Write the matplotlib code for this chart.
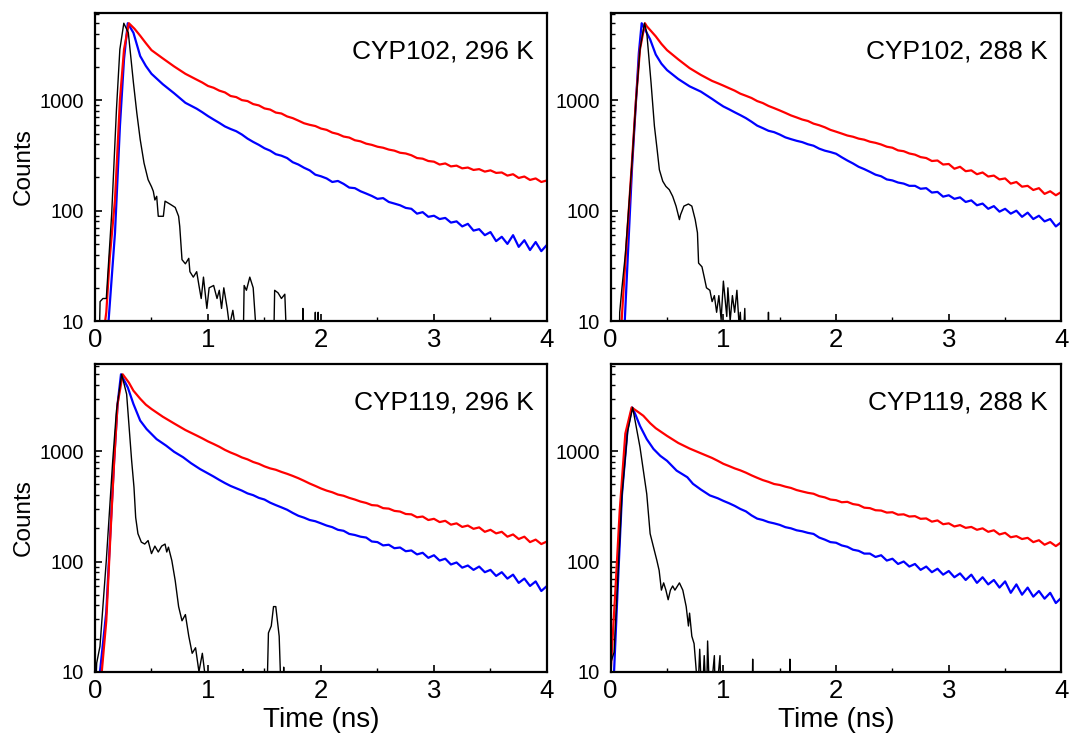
import matplotlib
matplotlib.use('Agg')
import numpy as np
import matplotlib.pyplot as plt
from matplotlib.ticker import LogLocator, NullFormatter, FixedLocator, MultipleLocator

plt.rcParams['font.family'] = ['Liberation Sans', 'DejaVu Sans']

# panel labels
titles = ['CYP102, 296 K', 'CYP102, 288 K', 'CYP119, 296 K', 'CYP119, 288 K']

# common time grid for the slow tails (ns)
tail_t = [1.00, 1.05, 1.10, 1.15, 1.20, 1.25, 1.30, 1.35, 1.40, 1.45,
          1.50, 1.55, 1.60, 1.65, 1.70, 1.75, 1.80, 1.85, 1.90, 1.95,
          2.00, 2.05, 2.10, 2.15, 2.20, 2.25, 2.30, 2.35, 2.40, 2.45,
          2.50, 2.55, 2.60, 2.65, 2.70, 2.75, 2.80, 2.85, 2.90, 2.95,
          3.00, 3.05, 3.10, 3.15, 3.20, 3.25, 3.30, 3.35, 3.40, 3.45,
          3.50, 3.55, 3.60, 3.65, 3.70, 3.75, 3.80, 3.85, 3.90, 3.95,
          4.00]

# ---- CYP102, 296 K ----
red_a_t = [0.07, 0.10, 0.13, 0.177, 0.221, 0.257, 0.30, 0.35, 0.40, 0.45, 0.50, 0.60, 0.70, 0.80, 0.90, 0.95]
red_a = [7, 12, 37, 126, 1020, 2900, 5000, 4450, 3850, 3300, 2850, 2400, 2030, 1740, 1540, 1450]
red_a_tail = [1350, 1300, 1225, 1180, 1095, 1070, 1005, 985, 925, 900,
              845, 825, 775, 760, 715, 690, 655, 620, 600, 585,
              555, 540, 510, 495, 470, 460, 435, 425, 405, 395,
              380, 372, 358, 350, 335, 330, 318, 300, 296, 282,
              278, 262, 268, 252, 256, 242, 246, 234, 238, 226,
              232, 220, 222, 208, 214, 198, 204, 190, 196, 182,
              188]
blue_a_t = [0.11, 0.12, 0.177, 0.221, 0.257, 0.29, 0.34, 0.40, 0.45, 0.50, 0.60, 0.70, 0.80, 0.90, 0.95]
blue_a = [7, 10, 63, 590, 2370, 5000, 4100, 2520, 2050, 1740, 1400, 1160, 950, 840, 780]
blue_a_tail = [720, 670, 625, 580, 550, 525, 490, 450, 420, 395,
               368, 350, 325, 315, 300, 275, 262, 245, 232, 212,
               205, 196, 182, 186, 175, 162, 160, 150, 143, 136,
               128, 130, 120, 116, 112, 106, 104, 94, 97, 88,
               90, 84, 86, 78, 80, 72, 76, 66, 68, 60,
               64, 53, 58, 50, 60, 47, 54, 44, 52, 43,
               49]
irf_a_t = [0.035, 0.045, 0.07, 0.10, 0.148, 0.19, 0.22, 0.255, 0.295, 0.34,
           0.37, 0.40, 0.434, 0.47, 0.50, 0.516, 0.53, 0.546, 0.56, 0.605,
           0.62, 0.65, 0.68, 0.71, 0.74, 0.75, 0.77, 0.80, 0.83, 0.84,
           0.87, 0.90, 0.92, 0.94, 0.96, 0.97, 0.99, 1.01, 1.05, 1.08,
           1.10, 1.12, 1.14, 1.17, 1.19, 1.22, 1.24, 1.31, 1.32, 1.34,
           1.37, 1.40, 1.42, 1.58, 1.59, 1.62, 1.65, 1.68, 1.70, 1.835,
           1.84, 1.845, 1.945, 1.95, 1.955, 1.97, 1.975, 1.98, 4.0]
irf_a = [5, 15, 16, 16, 95, 830, 2900, 5000, 4100, 1450,
         770, 442, 270, 191, 165, 150, 125, 135, 89, 89,
         122, 117, 112, 107, 89, 72, 36, 33, 37, 28,
         25, 28, 21, 16, 25, 20, 13, 20, 21, 16,
         19, 13, 20, 13, 9, 12.5, 9, 5, 21, 19,
         25, 20, 10, 5, 19, 18, 16, 17.5, 5, 5,
         13, 5, 5, 12, 5, 5, 12, 5, 5]

# ---- CYP102, 288 K ----
red_b_t = [0.085, 0.097, 0.127, 0.186, 0.224, 0.26, 0.304, 0.32, 0.358, 0.40, 0.45, 0.50, 0.60, 0.70, 0.80, 0.90, 0.95]
red_b = [7, 10, 31, 250, 1000, 2900, 5000, 4700, 4250, 3800, 3250, 2850, 2350, 1960, 1700, 1500, 1430]
red_b_tail = [1360, 1290, 1225, 1150, 1100, 1050, 985, 945, 890, 850,
              810, 770, 730, 700, 670, 650, 615, 595, 570, 540,
              520, 500, 480, 468, 450, 440, 422, 412, 398, 380,
              372, 352, 346, 330, 322, 306, 300, 282, 285, 262,
              265, 240, 250, 228, 232, 214, 222, 204, 208, 192,
              196, 176, 182, 165, 168, 154, 160, 142, 150, 138,
              148]
blue_b_t = [0.11, 0.125, 0.15, 0.19, 0.225, 0.25, 0.275, 0.35, 0.40, 0.45, 0.50, 0.60, 0.70, 0.80, 0.90, 0.95]
blue_b = [7, 10, 35, 250, 1000, 2700, 5000, 3570, 2600, 2150, 1880, 1560, 1340, 1200, 1030, 950]
blue_b_tail = [880, 830, 780, 735, 690, 640, 590, 560, 530, 515,
               490, 462, 445, 430, 418, 400, 388, 365, 350, 340,
               328, 305, 285, 268, 250, 238, 225, 212, 205, 192,
               188, 180, 176, 168, 168, 158, 160, 146, 148, 134,
               138, 128, 132, 120, 124, 112, 116, 104, 110, 98,
               104, 94, 100, 88, 96, 84, 90, 80, 84, 72,
               79]
irf_b_t = [0.075, 0.08, 0.10, 0.13, 0.19, 0.225, 0.26, 0.30, 0.32, 0.358,
           0.388, 0.412, 0.432, 0.462, 0.49, 0.52, 0.55, 0.58, 0.61, 0.62,
           0.65, 0.69, 0.72, 0.75, 0.77, 0.78, 0.81, 0.83, 0.85, 0.88,
           0.90, 0.92, 0.94, 0.96, 0.98, 1.0, 1.03, 1.04, 1.06, 1.08,
           1.10, 1.12, 1.14, 1.15, 1.17, 1.19, 1.20, 1.395, 1.40, 1.405,
           4.0]
irf_b = [5, 12, 20, 40, 280, 1000, 2900, 5000, 4120, 1450,
         585, 359, 235, 185, 166, 155, 135, 110, 83, 92,
         110, 115, 110, 83, 63, 33.5, 31, 25, 20, 19,
         15, 17, 12, 17, 10.3, 23, 11, 20, 10, 17,
         12, 19, 9, 12, 5, 13, 5, 5, 12, 5,
         5]

# ---- CYP119, 296 K ----
red_c_t = [0.05, 0.06, 0.10, 0.14, 0.17, 0.20, 0.245, 0.30, 0.34, 0.40, 0.45, 0.50, 0.60, 0.70, 0.80, 0.90, 0.95]
red_c = [7, 10, 29, 205, 825, 2690, 5000, 4200, 3550, 3000, 2650, 2420, 2060, 1790, 1560, 1390, 1310]
red_c_tail = [1230, 1165, 1100, 1030, 975, 930, 880, 845, 800, 770,
              730, 700, 680, 650, 625, 598, 570, 540, 510, 485,
              460, 440, 425, 405, 395, 378, 365, 350, 340, 325,
              322, 305, 302, 288, 284, 270, 268, 252, 256, 238,
              244, 228, 234, 216, 222, 206, 212, 198, 204, 186,
              194, 180, 186, 168, 176, 160, 168, 150, 158, 144,
              152]
blue_c_t = [0.035, 0.044, 0.10, 0.14, 0.17, 0.20, 0.23, 0.29, 0.34, 0.40, 0.457, 0.545, 0.63, 0.70, 0.78, 0.85, 0.93]
blue_c = [7, 10, 35, 220, 850, 2700, 5000, 3800, 2690, 1900, 1590, 1290, 1125, 990, 883, 780, 690]
blue_c_tail = [630, 590, 550, 515, 485, 462, 440, 415, 400, 378,
               365, 342, 325, 310, 295, 276, 260, 250, 238, 232,
               222, 212, 205, 194, 190, 178, 174, 168, 165, 152,
               150, 140, 142, 132, 134, 124, 126, 116, 120, 108,
               114, 102, 106, 94, 98, 88, 92, 84, 90, 80,
               84, 74, 80, 70, 76, 64, 70, 60, 66, 54,
               60]
irf_c_t = [0.0, 0.015, 0.044, 0.10, 0.157, 0.19, 0.236, 0.28, 0.324, 0.345,
           0.36, 0.38, 0.41, 0.44, 0.47, 0.50, 0.53, 0.56, 0.59, 0.62,
           0.635, 0.65, 0.68, 0.71, 0.74, 0.77, 0.80, 0.83, 0.86, 0.89,
           0.92, 0.95, 0.97, 0.99, 1.305, 1.31, 1.315, 1.52, 1.535, 1.56,
           1.58, 1.60, 1.63, 1.65, 1.665, 1.67, 1.675, 4.0]
irf_c = [5, 12, 17, 102, 825, 2340, 5000, 3300, 830, 472,
         251, 179, 150, 144, 155, 118, 138, 122, 138, 144,
         122, 135, 102, 67, 39, 29, 33, 21, 14.7, 16.5,
         10, 14.7, 10, 5, 5, 10.5, 5, 5, 22.5, 26,
         39, 39, 21, 5, 5, 11, 5, 5]

# ---- CYP119, 288 K ----
red_d_t = [-0.01, 0.0, 0.04, 0.08, 0.13, 0.186, 0.25, 0.29, 0.35, 0.40, 0.50, 0.60, 0.70, 0.80, 0.90, 0.95]
red_d = [7, 10, 51, 288, 1450, 2500, 2250, 2100, 1800, 1620, 1380, 1190, 1060, 960, 870, 820]
red_d_tail = [770, 735, 700, 672, 640, 605, 575, 548, 528, 505,
              495, 478, 465, 445, 432, 420, 412, 392, 382, 365,
              360, 345, 348, 332, 326, 308, 305, 292, 290, 278,
              280, 266, 268, 256, 258, 244, 246, 230, 236, 218,
              222, 208, 214, 202, 206, 194, 200, 186, 192, 176,
              182, 166, 170, 160, 164, 150, 156, 142, 150, 138,
              150]
blue_d_t = [0.02, 0.03, 0.06, 0.10, 0.15, 0.19, 0.22, 0.26, 0.32, 0.38, 0.44, 0.50, 0.585, 0.68, 0.73, 0.80, 0.88, 0.95]
blue_d = [7, 10, 51, 400, 1600, 2500, 2150, 1700, 1290, 1050, 910, 820, 668, 582, 507, 450, 398, 375]
blue_d_tail = [355, 338, 320, 300, 285, 262, 245, 238, 228, 222,
               215, 205, 200, 192, 188, 182, 178, 165, 158, 150,
               148, 140, 136, 128, 125, 118, 118, 110, 114, 102,
               106, 95, 100, 90, 95, 84, 90, 80, 86, 76,
               82, 72, 78, 68, 76, 64, 72, 62, 68, 58,
               66, 52, 62, 50, 58, 48, 54, 46, 52, 42,
               47]
irf_d_t = [-0.005, 0.0, 0.03, 0.06, 0.10, 0.15, 0.195, 0.26, 0.29, 0.32,
           0.35, 0.38, 0.41, 0.43, 0.45, 0.47, 0.49, 0.51, 0.53, 0.55,
           0.57, 0.61, 0.64, 0.67, 0.69, 0.70, 0.72, 0.74, 0.76, 0.77,
           0.79, 0.81, 0.83, 0.85, 0.86, 0.88, 0.92, 0.93, 0.97, 0.98,
           1.255, 1.26, 1.265, 1.585, 1.59, 1.595, 4.0]
irf_d = [5, 12, 15, 60, 400, 1500, 2500, 1090, 668, 410,
         179, 135, 102, 83, 55, 64, 55, 45, 55, 60,
         55, 64, 55, 39, 26, 34, 21, 18, 10, 5,
         16, 5, 14, 5, 19, 5, 14, 5, 14, 5,
         5, 13, 5, 5, 13, 5, 5]

panels = [
    (red_a_t, red_a, red_a_tail, blue_a_t, blue_a, blue_a_tail, irf_a_t, irf_a),
    (red_b_t, red_b, red_b_tail, blue_b_t, blue_b, blue_b_tail, irf_b_t, irf_b),
    (red_c_t, red_c, red_c_tail, blue_c_t, blue_c, blue_c_tail, irf_c_t, irf_c),
    (red_d_t, red_d, red_d_tail, blue_d_t, blue_d, blue_d_tail, irf_d_t, irf_d),
]

fig = plt.figure(figsize=(10.71, 7.38), dpi=100)

# axes boxes in figure fractions (left, bottom, width, height)
boxes = [
    (0.0887, 0.565, 0.422, 0.4175),
    (0.5702, 0.565, 0.4209, 0.4175),
    (0.0887, 0.0898, 0.422, 0.417),
    (0.5702, 0.0898, 0.4209, 0.417),
]

for i, (box, title, p) in enumerate(zip(boxes, titles, panels)):
    rt, rv, rtail, bt, bv, btail, kt, kv = p
    ax = fig.add_axes(box)

    ax.plot(list(bt) + tail_t, list(bv) + btail, color='#0000ff', lw=1.6)
    ax.plot(list(rt) + tail_t, list(rv) + rtail, color='#ff0000', lw=1.6)
    ax.plot(kt, kv, color='black', lw=1.0)

    ax.set_yscale('log')
    ax.set_xlim(0, 4)
    ax.set_ylim(10, 6200)

    ax.yaxis.set_major_locator(FixedLocator([10, 100, 1000]))
    ax.yaxis.set_major_formatter(plt.FuncFormatter(lambda v, pos: '%d' % v))
    ax.yaxis.set_minor_locator(LogLocator(base=10, subs=np.arange(2, 10)))
    ax.yaxis.set_minor_formatter(NullFormatter())
    ax.xaxis.set_major_locator(MultipleLocator(1))
    ax.xaxis.set_minor_locator(MultipleLocator(0.5))

    ax.tick_params(axis='both', which='both', direction='in', top=False, right=False)
    ax.tick_params(axis='both', which='major', length=5, width=1.2)
    ax.tick_params(axis='both', which='minor', length=3, width=1.0)
    ax.tick_params(axis='x', which='major', labelsize=18.5, pad=5)
    ax.tick_params(axis='y', which='major', labelsize=14.5, pad=8)

    for s in ax.spines.values():
        s.set_linewidth(1.6)

    ax.text(0.97, 0.875, title, transform=ax.transAxes, ha='right', va='center', fontsize=19)

    if i % 2 == 0:
        ax.set_ylabel('Counts', fontsize=17.5, labelpad=3)
    if i >= 2:
        ax.set_xlabel('Time (ns)', fontsize=20, labelpad=3)

fig.savefig('out.png', dpi=100)
